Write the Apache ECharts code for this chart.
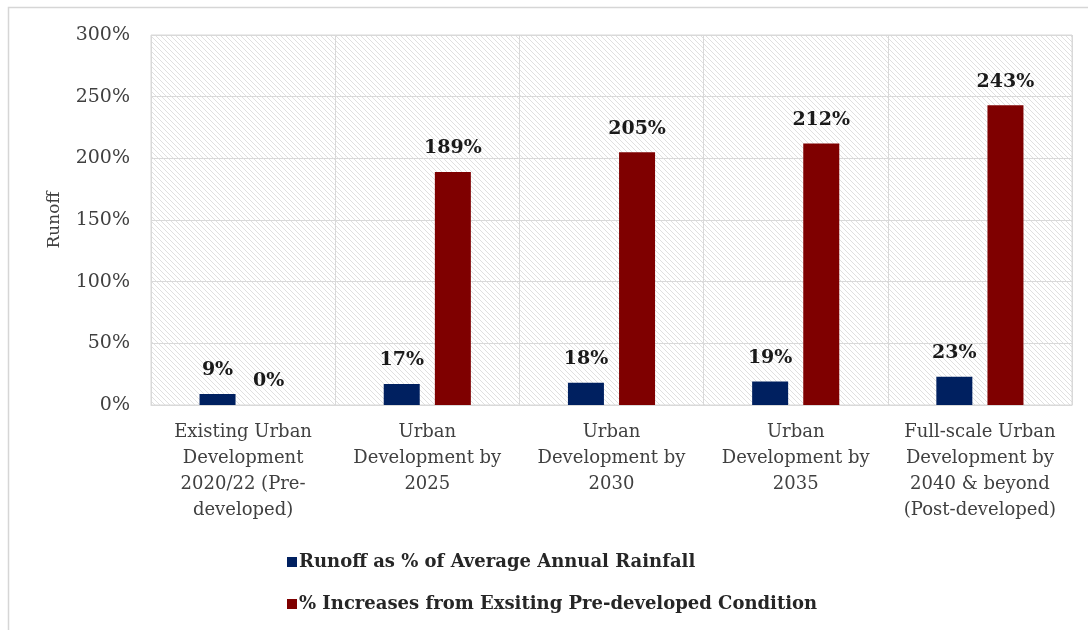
<!DOCTYPE html>
<html>
<head>
<meta charset="utf-8">
<script src="https://cdn.jsdelivr.net/npm/echarts@6/dist/echarts.min.js"></script>
<style>
  html, body { margin: 0; padding: 0; background: #fff; }
  #runoff { width: 1088px; height: 630px; }
</style>
</head>
<body>
<div id="runoff"></div>
<script>
// categories and values
var categories = [
  "Existing Urban\nDevelopment\n2020/22 (Pre-\ndeveloped)",
  "Urban\nDevelopment by\n2025",
  "Urban\nDevelopment by\n2030",
  "Urban\nDevelopment by\n2035",
  "Full-scale Urban\nDevelopment by\n2040 & beyond\n(Post-developed)"
];
var runoffPct = [9, 17, 18, 19, 23];
var increasePct = [0, 189, 205, 212, 243];
var seriesNames = [
  "Runoff as % of Average Annual Rainfall",
  "% Increases from Exsiting Pre-developed Condition"
];

var FONT = "DejaVu Serif";

// diagonal hatch for the plot area
function hatch() {
  var s = 5;
  var c = document.createElement("canvas");
  c.width = s; c.height = s;
  var ctx = c.getContext("2d");
  ctx.fillStyle = "#ffffff";
  ctx.fillRect(0, 0, s, s);
  ctx.strokeStyle = "#e0e0e0";
  ctx.lineWidth = 1;
  ctx.beginPath();
  ctx.moveTo(-1, -1); ctx.lineTo(s + 1, s + 1);
  ctx.moveTo(-1, s - 1); ctx.lineTo(1, s + 1);
  ctx.moveTo(s - 1, -1); ctx.lineTo(s + 1, 1);
  ctx.stroke();
  return c;
}

var chart = echarts.init(document.getElementById("runoff"));
var labelStyle = {
  show: true,
  position: "top",
  distance: 14,
  formatter: "{c}%",
  fontFamily: FONT,
  fontWeight: "bold",
  fontSize: 19,
  color: "#1a1a1a"
};
chart.setOption({
  animation: false,
  textStyle: { fontFamily: FONT },
  grid: {
    left: 151,
    right: 16,
    top: 35,
    bottom: 225,
    show: true,
    backgroundColor: { image: hatch(), repeat: "repeat" },
    borderColor: "#d9d9d9",
    borderWidth: 1
  },
  legend: {
    orient: "vertical",
    left: 282,
    top: 548,
    itemGap: 24,
    itemWidth: 10,
    itemHeight: 10,
    icon: "rect",
    data: seriesNames,
    textStyle: {
      fontFamily: FONT,
      fontWeight: "bold",
      fontSize: 18,
      color: "#262626",
      padding: [0, 0, 0, -3]
    }
  },
  xAxis: {
    type: "category",
    data: categories,
    axisTick: { show: false },
    axisLine: { show: true, lineStyle: { color: "#d9d9d9" } },
    splitLine: { show: true, interval: 0, lineStyle: { color: "#d9d9d9" } },
    axisLabel: {
      interval: 0,
      margin: 14,
      fontFamily: FONT,
      fontSize: 18,
      lineHeight: 26,
      color: "#404040"
    }
  },
  yAxis: {
    type: "value",
    min: 0,
    max: 300,
    interval: 50,
    name: "Runoff",
    nameLocation: "middle",
    nameGap: 88,
    nameTextStyle: { fontFamily: FONT, fontSize: 17, color: "#404040" },
    axisLine: { show: false },
    axisTick: { show: false },
    splitLine: { lineStyle: { color: "#d9d9d9" } },
    axisLabel: {
      formatter: "{value}%",
      margin: 21,
      fontFamily: FONT,
      fontSize: 19,
      color: "#404040"
    }
  },
  series: [
    {
      name: seriesNames[0],
      type: "bar",
      data: runoffPct,
      barWidth: 36,
      barGap: "42%",
      itemStyle: { color: "#002060" },
      label: labelStyle
    },
    {
      name: seriesNames[1],
      type: "bar",
      data: increasePct,
      barWidth: 36,
      itemStyle: { color: "#7f0000" },
      label: labelStyle
    }
  ],
  graphic: [
    {
      type: "rect",
      shape: { x: 8.5, y: 7.5, width: 1200, height: 800 },
      style: { fill: null, stroke: "#d6d6d6", lineWidth: 1.5 },
      silent: true
    }
  ]
});
</script>
</body>
</html>
